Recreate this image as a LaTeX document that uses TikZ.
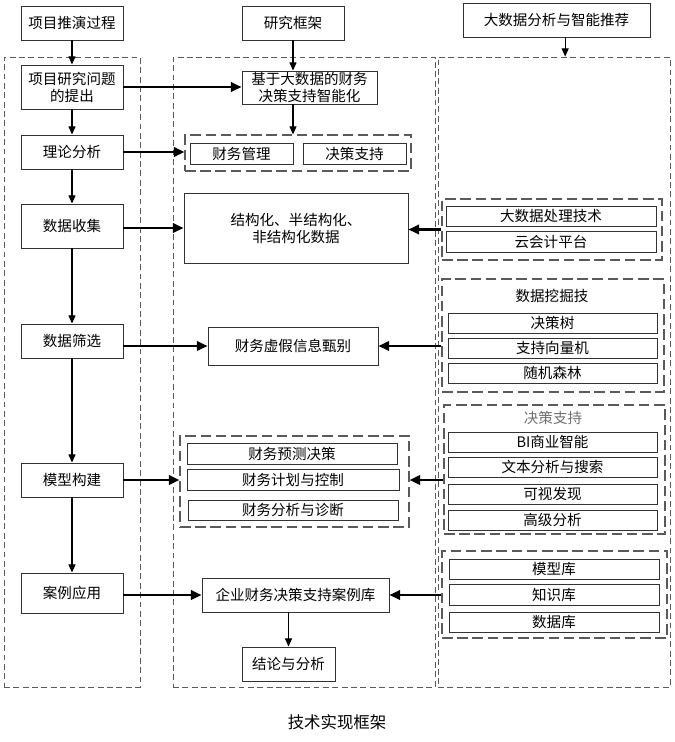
\documentclass[tikz,border=0pt]{standalone}
\usepackage{fontspec}
\setmainfont{Noto Sans CJK SC}
\usepackage{xcolor}
\usepackage{tikz}
\usetikzlibrary{arrows.meta}
\definecolor{boxline}{HTML}{333333}
\definecolor{dashline}{HTML}{5A5A5A}
\definecolor{titlegray}{HTML}{707070}
\tikzset{box/.style 2 args={draw=boxline, line width=0.8pt, minimum width=#1*0.03cm, minimum height=#2*0.03cm, inner sep=0pt, align=center, font=\fontsize{12.4}{14.5}\selectfont},
grp/.style 2 args={draw=dashline, line width=0.9pt, dash pattern=on 9pt off 4pt, minimum width=#1*0.03cm, minimum height=#2*0.03cm, inner sep=0pt},
colbox/.style 2 args={draw=dashline, line width=0.7pt, dash pattern=on 5pt off 3pt, minimum width=#1*0.03cm, minimum height=#2*0.03cm, inner sep=0pt},
thinarr/.style={-{Triangle[length=7pt,width=6pt]}, line width=1pt, draw=black},
thickarr/.style={-{Triangle[length=9pt,width=8pt]}, line width=2pt, draw=black}}

\begin{document}
\begin{tikzpicture}[x=0.03cm, y=-0.03cm]
\useasboundingbox (0,0) rectangle (675,742);
%\draw[step=50,color=gray] (0,0) grid (675,742);
\node[colbox={136}{630}] (lcol) at (72,372) {};
\node[colbox={262}{630}] (mcol) at (304,372) {};
\node[colbox={232}{630}] (rcol) at (554,372) {};
\node[box={102}{34}] (tuiyan) at (72,23) {项目推演过程};
\node[box={102}{34}] (kuangjia) at (293,23) {研究框架};
\node[box={187}{34}] (tuijian) at (556.5,20) {大数据分析与智能推荐};
\node[box={102}{44}] (tichu) at (72,87) {项目研究问题\\的提出};
\node[box={135}{33}] (zhineng) at (309.5,87.5) {基于大数据的财务\\决策支持智能化};
\node[grp={226}{36}] (lgrp) at (298,153) {};
\node[box={103}{21}] (guanli) at (241.5,153.5) {财务管理};
\node[box={103}{21}] (zhichi) at (354.5,153.5) {决策支持};
\node[box={102}{34}] (lilun) at (72,152) {理论分析};
\node[box={102}{44}] (shouji) at (72,226) {数据收集};
\node[box={224}{70}] (jiegou) at (296,228) {结构化、半结构化、\\非结构化数据};
\node[grp={220}{61}] (dgrp) at (552,229.5) {};
\node[box={210}{20}] (chuli) at (551,216) {大数据处理技术};
\node[box={210}{21}] (yun) at (551,241.5) {云会计平台};
\node[grp={222}{113}] (wgrp) at (553,335.5) {};
\node[anchor=center, font=\fontsize{12.4}{14.5}\selectfont] (wtitle) at (552,296) {数据挖掘技};
\node[box={209}{20}] (shu) at (552.5,323) {决策树};
\node[box={209}{20}] (xiangliang) at (552.5,348) {支持向量机};
\node[box={209}{20}] (senlin) at (552.5,373) {随机森林};
\node[box={102}{34}] (shaixuan) at (72,341) {数据筛选};
\node[box={170}{38}] (xujia) at (293,346) {财务虚假信息甄别};
\node[grp={221}{129}] (jgrp) at (554.5,469.5) {};
\node[anchor=center, text=titlegray, font=\fontsize{12.4}{14.5}\selectfont] (jtitle) at (553,418) {决策支持};
\node[box={209}{20}] (bi) at (552.5,442) {BI商业智能};
\node[box={209}{20}] (wenben) at (552.5,467) {文本分析与搜索};
\node[box={209}{20}] (keshi) at (552.5,494) {可视发现};
\node[box={209}{20}] (gaoji) at (552.5,520) {高级分析};
\node[box={102}{34}] (goujian) at (72,480) {模型构建};
\node[grp={229}{91}] (fgrp) at (294.5,481.5) {};
\node[box={210}{21}] (yuce) at (292,453.5) {财务预测决策};
\node[box={212}{21}] (jihua) at (293,479.5) {财务计划与控制};
\node[box={210}{20}] (zhenduan) at (293,510) {财务分析与诊断};
\node[grp={225}{87}] (kgrp) at (554.5,594.5) {};
\node[box={210}{20}] (moxing) at (554,569) {模型库};
\node[box={210}{21}] (zhishi) at (554,594.5) {知识库};
\node[box={210}{20}] (shuju) at (554,622) {数据库};
\node[box={102}{40}] (anli) at (72,593) {案例应用};
\node[box={187}{34}] (anliku) at (295.5,595) {企业财务决策支持案例库};
\node[box={93}{34}] (jielun) at (288.5,664) {结论与分析};
\node[font=\fontsize{14}{16}\selectfont] (caption) at (337,722) {技术实现框架};
\draw[thinarr] (tuiyan.south) -- (tichu.north);
\draw[thinarr] (tichu.south) -- (lilun.north);
\draw[thinarr] (lilun.south) -- (shouji.north);
\draw[thinarr] (shouji.south) -- (shaixuan.north);
\draw[thinarr] (shaixuan.south) -- (goujian.north);
\draw[thinarr] (goujian.south) -- (anli.north);
\draw[thinarr] (kuangjia.south) -- (kuangjia.south |- zhineng.north);
\draw[thinarr] (zhineng.south -| kuangjia.south) -- (kuangjia.south |- lgrp.north);
\draw[thinarr] ([xshift=0.26cm]tuijian.south) -- ([xshift=0.26cm]tuijian.south |- rcol.north);
\draw[thinarr] (anliku.south -| jielun.north) -- (jielun.north);
\draw[thickarr] (tichu.east) -- (tichu.east -| zhineng.west);
\draw[thickarr] (lilun.east) -- (lilun.east -| lgrp.west);
\draw[thickarr] (jiegou.west -| shouji.east) -- (jiegou.west);
\draw[thickarr] (dgrp.west) -- (dgrp.west -| jiegou.east);
\draw[thickarr] (xujia.west -| shaixuan.east) -- (xujia.west);
\draw[thickarr] (wgrp.west |- xujia.east) -- (xujia.east);
\draw[thickarr] (goujian.east) -- (goujian.east -| fgrp.west);
\draw[thickarr] (jgrp.west |- goujian.east) -- (fgrp.east |- goujian.east);
\draw[thickarr] (anli.east |- anliku.west) -- (anliku.west);
\draw[thickarr] (kgrp.west |- anliku.east) -- (anliku.east);
\end{tikzpicture}
\end{document}
